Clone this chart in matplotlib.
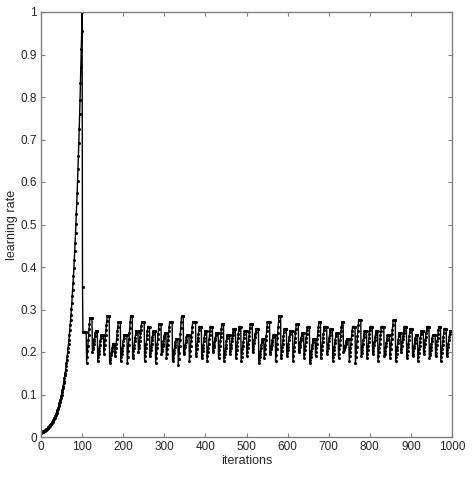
import numpy as np
import matplotlib
matplotlib.use("Agg")
import matplotlib.pyplot as plt

plt.rcParams['font.family'] = ['Liberation Sans', 'DejaVu Sans']

# warm-up phase, iterations 0..100
warmup = [0.0100, 0.0105, 0.0110, 0.0115, 0.0120, 0.0126, 0.0132, 0.0138, 0.0145, 0.0151,
          0.0158, 0.0166, 0.0174, 0.0182, 0.0191, 0.0200, 0.0209, 0.0219, 0.0229, 0.0240,
          0.0251, 0.0263, 0.0275, 0.0288, 0.0302, 0.0316, 0.0331, 0.0347, 0.0363, 0.0380,
          0.0398, 0.0417, 0.0437, 0.0457, 0.0479, 0.0501, 0.0525, 0.0550, 0.0575, 0.0603,
          0.0631, 0.0661, 0.0692, 0.0724, 0.0759, 0.0794, 0.0832, 0.0871, 0.0912, 0.0955,
          0.100, 0.105, 0.110, 0.115, 0.120, 0.126, 0.132, 0.138, 0.145, 0.151,
          0.158, 0.166, 0.174, 0.182, 0.191, 0.200, 0.209, 0.219, 0.229, 0.240,
          0.251, 0.263, 0.275, 0.288, 0.302, 0.316, 0.331, 0.347, 0.363, 0.380,
          0.398, 0.417, 0.437, 0.457, 0.479, 0.501, 0.525, 0.550, 0.575, 0.603,
          0.631, 0.661, 0.692, 0.724, 0.759, 0.794, 0.832, 0.871, 0.912, 0.955,
          1.000]

# right after warm-up: one point at ~0.35 then a flat run at ~0.25
after_drop = [0.354, 0.248, 0.248, 0.248, 0.248, 0.248, 0.248, 0.248, 0.248, 0.248]

# cyclic phase: one entry per cycle (trough, peak, length in iterations)
peaks = [0.28, 0.25, 0.24, 0.285, 0.22, 0.27, 0.24, 0.285,
         0.25, 0.27, 0.26, 0.25, 0.265, 0.245, 0.27, 0.23,
         0.285, 0.24, 0.27, 0.26, 0.25, 0.26, 0.245, 0.265,
         0.24, 0.255, 0.26, 0.25, 0.265, 0.255, 0.23, 0.27,
         0.24, 0.285, 0.255, 0.25, 0.265, 0.245, 0.26, 0.23,
         0.27, 0.26, 0.255, 0.245, 0.27, 0.23, 0.26, 0.275,
         0.25, 0.26, 0.25, 0.26, 0.24, 0.275, 0.245, 0.26,
         0.255, 0.24, 0.25, 0.26, 0.24, 0.26, 0.255, 0.25]
troughs = [0.175, 0.20, 0.18, 0.195, 0.175, 0.19, 0.18, 0.175,
           0.185, 0.20, 0.18, 0.19, 0.175, 0.195, 0.185, 0.18,
           0.17, 0.195, 0.18, 0.19, 0.185, 0.18, 0.20, 0.185,
           0.18, 0.195, 0.185, 0.18, 0.19, 0.20, 0.175, 0.185,
           0.195, 0.18, 0.185, 0.19, 0.18, 0.20, 0.185, 0.175,
           0.19, 0.185, 0.195, 0.18, 0.185, 0.20, 0.18, 0.175,
           0.19, 0.185, 0.195, 0.18, 0.19, 0.185, 0.18, 0.20,
           0.185, 0.19, 0.18, 0.195, 0.185, 0.19, 0.18, 0.19]
cycle_len = [14, 13, 15, 14, 13, 14, 16, 13,
             14, 15, 13, 14, 14, 12, 15, 14,
             13, 14, 16, 14, 13, 14, 14, 13,
             15, 14, 13, 14, 14, 15, 13, 14,
             14, 13, 14, 15, 14, 13, 14, 14,
             13, 15, 14, 14, 12, 14, 15, 14,
             14, 14, 13, 15, 14, 14, 13, 14,
             14, 13, 14, 14, 15, 13, 14, 14]
rise_steps = 9

lr = list(warmup) + list(after_drop)
for lo, hi, n in zip(troughs, peaks, cycle_len):
    lr += list(np.linspace(lo, hi, rise_steps))
    lr += [hi] * (n - rise_steps)
it = np.arange(len(lr))

fig = plt.figure(figsize=(4.74, 4.79), dpi=100)
ax = fig.add_axes([41 / 474, 1 - 437 / 479, 411 / 474, 425 / 479])
ax.plot(it, lr, color='black', lw=1.0, marker='o', ms=2.2, mew=0, mfc='black')

ax.set_xlim(0, 1000)
ax.set_ylim(0, 1)
ax.set_xticks(np.arange(0, 1001, 100))
ax.set_yticks(np.arange(0, 1.01, 0.1))
ax.set_yticklabels(['0', '0.1', '0.2', '0.3', '0.4', '0.5', '0.6', '0.7', '0.8', '0.9', '1'])
ax.tick_params(direction='in', top=True, right=True, length=3, width=0.8,
               colors='#808080', labelcolor='#262626', labelsize=8.5, pad=3)
for s in ax.spines.values():
    s.set_color('#808080')
    s.set_linewidth(1.0)
ax.set_xlabel('iterations', fontsize=9, color='#262626', labelpad=1)
ax.set_ylabel('learning rate', fontsize=9, color='#262626', labelpad=2)

fig.savefig('out.png', dpi=100)
